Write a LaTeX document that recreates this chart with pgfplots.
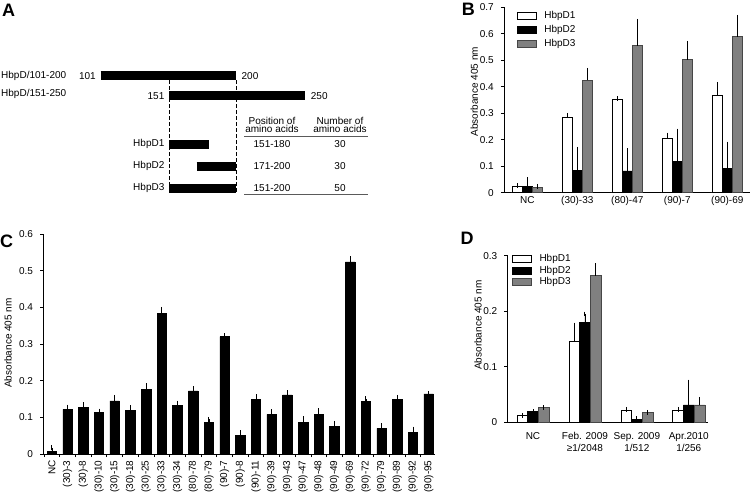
\documentclass[border=0pt]{standalone}
\usepackage{fontspec}
\setmainfont{Liberation Sans}
\usepackage{pgfplots}
\pgfplotsset{compat=1.18}

\definecolor{barG}{RGB}{128,128,128}
\definecolor{barGd}{RGB}{70,70,70}
\definecolor{rulegray}{RGB}{90,90,90}

\pgfplotsset{
  panel/.style={
    scale only axis, clip=false,
    axis lines=left, axis line style={-, line width=0.8pt},
    tick align=outside, major tick length=3.5pt,
    tick style={line width=0.8pt, black},
    tick label style={font=\normalsize},
    /pgf/number format/assume math mode=true,
    yticklabel style={/pgf/number format/fixed, /pgf/number format/precision=1, xshift=-3.5pt},
    scaled y ticks=false, ymin=0,
    error bars/error bar style={line width=0.8pt, black},
    error bars/error mark options={line width=0.9pt, mark size=2.4pt, black},
  },
  legimg/.style={
    legend image code/.code={\draw[##1, line width=0.6pt] (0pt,-3.5pt) rectangle (19pt,3.5pt);},
  },
  wbar/.style={fill=white, draw=black, line width=0.6pt},
  kbar/.style={fill=black, draw=black, line width=0.6pt},
  gbar/.style={fill=barG, draw=barGd, line width=0.6pt},
}

\begin{document}
\begin{tikzpicture}
\useasboundingbox (0pt,0pt) rectangle (750pt,-496pt);

% ---------------- A: constructs (positions in amino acids)
\begin{axis}[scale only axis, at={(100.7pt,-250pt)}, anchor=south west,
  width=204.3pt, height=250pt, xmin=101, xmax=250, ymin=0, ymax=250,
  y dir=reverse, hide axis, clip=false]
\addplot[black, line width=9pt] coordinates {(101,75.8) (200,75.8)};
\addplot[black, line width=8.7pt] coordinates {(151,95.7) (250,95.7)};
\addplot[black, line width=9.3pt] coordinates {(151,144.7) (180,144.7)};
\addplot[black, line width=9pt] coordinates {(171,166.5) (200,166.5)};
\addplot[black, line width=8.7pt] coordinates {(151,188.3) (200,188.3)};
\addplot[black, line width=0.9pt, dash pattern=on 4pt off 2pt] coordinates {(151,80.3) (151,192.5)};
\addplot[black, line width=0.9pt, dash pattern=on 4pt off 2pt] coordinates {(200,80.3) (200,192.5)};
\node[anchor=east, inner sep=0pt, xshift=-4.7pt] at (axis cs:101,76) {101};
\node[anchor=west, inner sep=0pt, xshift=5pt] at (axis cs:200,76) {200};
\node[anchor=east, inner sep=0pt, xshift=-4.7pt] at (axis cs:151,96) {151};
\node[anchor=west, inner sep=0pt, xshift=5.7pt] at (axis cs:250,96) {250};
\node[anchor=east, inner sep=0pt, xshift=-4.7pt] at (axis cs:151,144) {HbpD1};
\node[anchor=east, inner sep=0pt, xshift=-4.7pt] at (axis cs:151,166) {HbpD2};
\node[anchor=east, inner sep=0pt, xshift=-4.7pt] at (axis cs:151,188) {HbpD3};
\end{axis}

% ---------------- B
\begin{axis}[panel, at={(504.3pt,-192.7pt)}, anchor=south west,
  width=245.5pt, height=185.4pt,
  xmin=-0.46, xmax=4.45, ymax=0.7,
  ytick={0,0.1,0.2,0.3,0.4,0.5,0.6,0.7},
  xtick={0,1,2,3,4}, xticklabels={NC,(30)-33,(80)-47,(90)-7,(90)-69},
  xtick style={draw=none}, xticklabel style={yshift=3pt},
  ybar=0pt, bar width=10.3pt, legimg,
  legend style={draw=none, fill=none, at={(0.05,0.99)}, anchor=north west,
    inner sep=0pt, row sep=1.3pt, column sep=6pt, cells={anchor=west}, font=\normalsize}]
\addplot[wbar, error bars/.cd, y dir=plus, y explicit] coordinates {
  (0,0.025) +- (0,0.002) (1,0.285) +- (0,0.007) (2,0.352) +- (0,0.003)
  (3,0.204) +- (0,0.014) (4,0.366) +- (0,0.043)};
\addplot[kbar, error bars/.cd, y dir=plus, y explicit] coordinates {
  (0,0.025) +- (0,0.025) (1,0.083) +- (0,0.081) (2,0.082) +- (0,0.077)
  (3,0.117) +- (0,0.116) (4,0.092) +- (0,0.092)};
\addplot[gbar, error bars/.cd, y dir=plus, y explicit] coordinates {
  (0,0.020) +- (0,0.004) (1,0.424) +- (0,0.038) (2,0.555) +- (0,0.092)
  (3,0.502) +- (0,0.062) (4,0.589) +- (0,0.073)};
\legend{HbpD1,HbpD2,HbpD3}
\end{axis}

% ---------------- C
\begin{axis}[panel, at={(43pt,-454pt)}, anchor=south west,
  width=392pt, height=220pt,
  xmin=-0.57, xmax=24.4, ymax=0.6,
  ytick={0,0.1,0.2,0.3,0.4,0.5,0.6},
  xtick={-0.5,0.5,...,24.5}, xticklabels={},
  major tick length=3pt,
  extra x ticks={0,1,...,24},
  extra x tick labels={NC,(30)-3,(30)-8,(30)-10,(30)-15,(30)-18,(30)-25,(30)-33,(30)-34,
    (80)-78,(80)-79,(90)-7,(90)-8,(90)-11,(90)-39,(90)-43,(90)-47,(90)-48,(90)-49,
    (90)-69,(90)-72,(90)-79,(90)-89,(90)-92,(90)-95},
  extra x tick style={tick style={draw=none}, xticklabel style={rotate=90, anchor=east}},
  ybar=0pt, bar width=9.5pt]
\addplot[kbar, error bars/.cd, y dir=plus, y explicit] coordinates {
  (0,0.008) +- (0,0.009) (1,0.122) +- (0,0.006) (2,0.128) +- (0,0.007)
  (3,0.114) +- (0,0.003) (4,0.145) +- (0,0.010) (5,0.119) +- (0,0.008)
  (6,0.177) +- (0,0.010) (7,0.383) +- (0,0.012) (8,0.132) +- (0,0.007)
  (9,0.172) +- (0,0.006) (10,0.086) +- (0,0.009) (11,0.320) +- (0,0.003)
  (12,0.050) +- (0,0.008) (13,0.150) +- (0,0.006) (14,0.108) +- (0,0.007)
  (15,0.161) +- (0,0.007) (16,0.086) +- (0,0.010) (17,0.108) +- (0,0.010)
  (18,0.075) +- (0,0.009) (19,0.524) +- (0,0.009) (20,0.143) +- (0,0.008)
  (21,0.070) +- (0,0.008) (22,0.148) +- (0,0.007) (23,0.058) +- (0,0.010)
  (24,0.164) +- (0,0.000)};
\end{axis}

% ---------------- D
\begin{axis}[panel, at={(507.7pt,-422pt)}, anchor=south west,
  width=200.3pt, height=166.3pt,
  xmin=-0.487, xmax=3.37, ymax=0.3,
  ytick={0,0.1,0.2,0.3},
  xtick={0,1,2,3},
  xticklabels={NC,{Feb. 2009\\≥1/2048},{Sep. 2009\\1/512},{Apr.2010\\1/256}},
  xticklabel style={align=center, yshift=-3pt},
  xtick style={draw=none},
  ybar=0pt, bar width=10.7pt, legimg,
  legend style={draw=none, fill=none, at={(0.02,1.02)}, anchor=north west,
    inner sep=0pt, row sep=-1.4pt, column sep=6pt, cells={anchor=west}, font=\normalsize}]
\addplot[wbar, error bars/.cd, y dir=plus, y explicit] coordinates {
  (0,0.012) +- (0,0) (1,0.145) +- (0,0.030) (2,0.021) +- (0,0.002) (3,0.022) +- (0,0.001)};
\addplot[kbar, error bars/.cd, y dir=plus, y explicit] coordinates {
  (0,0.019) +- (0,0) (1,0.179) +- (0,0.016) (2,0.005) +- (0,0.001) (3,0.031) +- (0,0.041)};
\addplot[gbar, error bars/.cd, y dir=plus, y explicit] coordinates {
  (0,0.026) +- (0,0) (1,0.264) +- (0,0.018) (2,0.0175) +- (0,0) (3,0.031) +- (0,0.010)};
\legend{HbpD1,HbpD2,HbpD3}
\end{axis}

% ---------------- free text
\begin{scope}[x=1pt, y=-1pt]
\node[font=\bfseries\fontsize{18}{18}\selectfont, anchor=north west, inner sep=0pt] at (2,4) {A};
\node[font=\bfseries\fontsize{18}{18}\selectfont, anchor=north west, inner sep=0pt] at (461.7,3.3) {B};
\node[font=\bfseries\fontsize{18}{18}\selectfont, anchor=north west, inner sep=0pt] at (0,234.3) {C};
\node[font=\bfseries\fontsize{18}{18}\selectfont, anchor=north west, inner sep=0pt] at (460.3,231.7) {D};
\node[rotate=90, inner sep=0pt] at (474.3,91.7) {Absorbance 405 nm};
\node[rotate=90, inner sep=0pt] at (8,343) {Absorbance 405 nm};
\node[rotate=90, inner sep=0pt] at (478,325) {Absorbance 405 nm};
\node[anchor=west, inner sep=0pt] at (1,76) {HbpD/101-200};
\node[anchor=west, inner sep=0pt] at (1,93.5) {HbpD/151-250};
\node[inner sep=0pt] at (272,120.7) {Position of};
\node[inner sep=0pt] at (272,129.3) {amino acids};
\node[inner sep=0pt] at (340,120.7) {Number of};
\node[inner sep=0pt] at (340,129.3) {amino acids};
\node[inner sep=0pt] at (272,144.3) {151-180};
\node[inner sep=0pt] at (340,144.3) {30};
\node[inner sep=0pt] at (272,166) {171-200};
\node[inner sep=0pt] at (340,166) {30};
\node[inner sep=0pt] at (272,188) {151-200};
\node[inner sep=0pt] at (340,188) {50};
\draw[rulegray, line width=0.8pt] (244.3,136.7) -- (368.3,136.7);
\draw[rulegray, line width=0.8pt] (244.3,194.3) -- (368.3,194.3);
\end{scope}
\end{tikzpicture}
\end{document}
